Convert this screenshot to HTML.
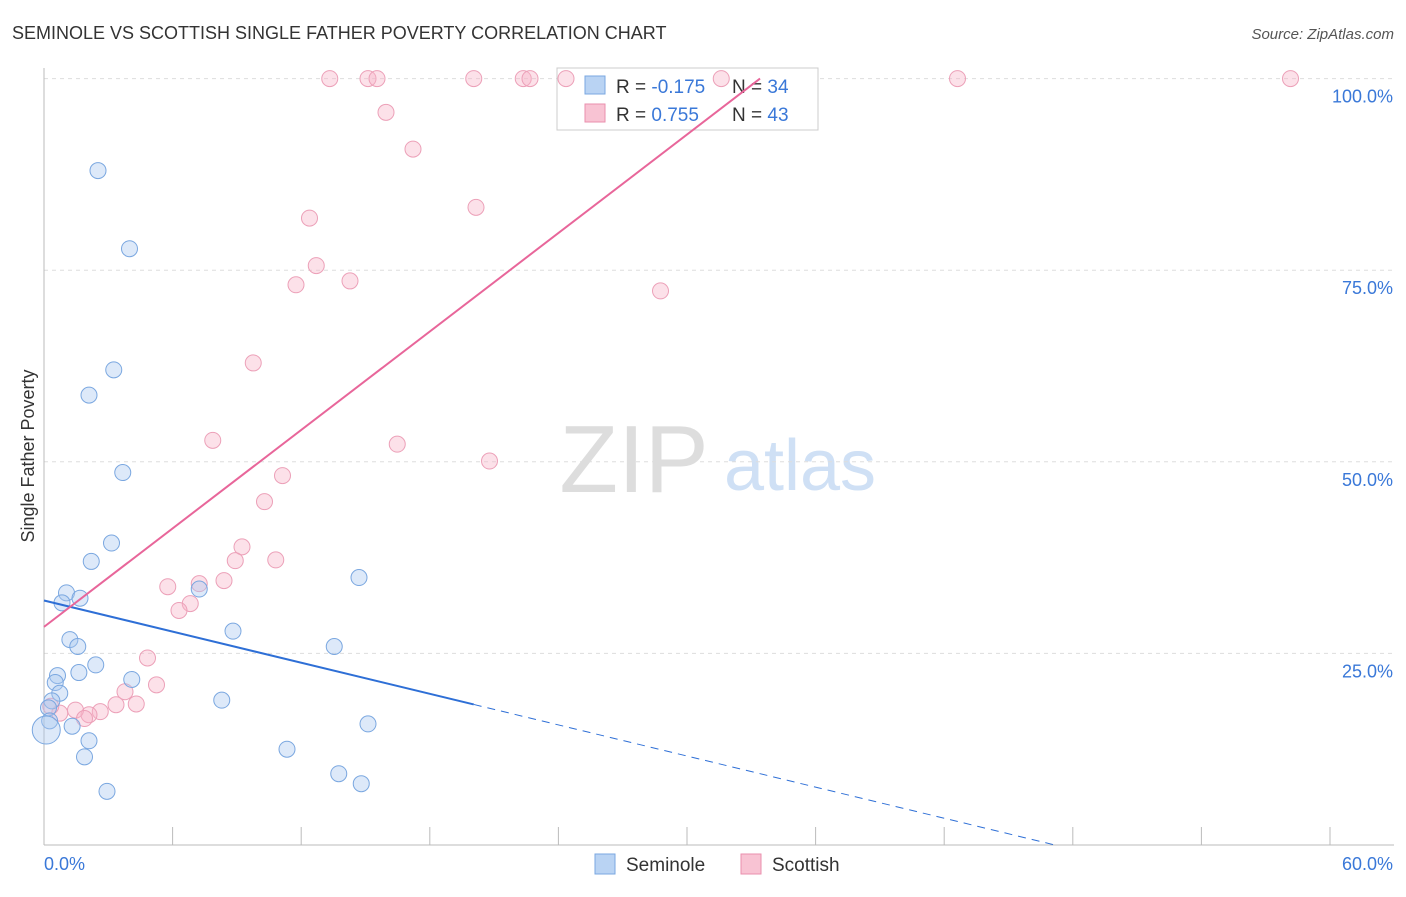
<!DOCTYPE html>
<html><head><meta charset="utf-8"><style>
body{margin:0;background:#fff;font-family:"Liberation Sans",sans-serif}
svg text{font-family:"Liberation Sans",sans-serif}
</style></head><body>
<svg id="c" width="1406" height="892" xmlns="http://www.w3.org/2000/svg">
<text x="12" y="39" font-size="18" fill="#333">SEMINOLE VS SCOTTISH SINGLE FATHER POVERTY CORRELATION CHART</text>
<text x="1394" y="39" font-size="15" fill="#555" text-anchor="end" font-style="italic">Source: ZipAtlas.com</text>
<text x="634" y="492" font-size="96" fill="#ddd" font-family="Liberation Serif" text-anchor="middle">ZIP</text>
<text x="800" y="490" font-size="72" fill="#cfe0f5" text-anchor="middle">atlas</text>
<text transform="translate(34,456) rotate(-90)" font-size="18" fill="#333" text-anchor="middle">Single Father Poverty</text>
<g id="grid"></g>
<g>
<rect x="557" y="68" width="261" height="62" fill="#fff" stroke="#ccc"/>
<rect x="585" y="76" width="20" height="18" fill="#b9d3f3" stroke="#7aa7e0"/>
<rect x="585" y="104" width="20" height="18" fill="#f8c3d3" stroke="#ea8fae"/>
<text x="616" y="93" font-size="19" fill="#333">R = <tspan fill="#3a78d8">-0.175</tspan></text>
<text x="732" y="93" font-size="19" fill="#333">N = <tspan fill="#3a78d8">34</tspan></text>
<text x="616" y="121" font-size="19" fill="#333">R = <tspan fill="#3a78d8"> 0.755</tspan></text>
<text x="732" y="121" font-size="19" fill="#333">N = <tspan fill="#3a78d8">43</tspan></text>
</g>
<g id="pts"></g><g id="lines"></g>
<g>
<rect x="595" y="854" width="20" height="20" fill="#b9d3f3" stroke="#7aa7e0"/>
<text x="626" y="871" font-size="19" fill="#333">Seminole</text>
<rect x="741" y="854" width="20" height="20" fill="#f8c3d3" stroke="#ea8fae"/>
<text x="772" y="871" font-size="19" fill="#333">Scottish</text>
</g>
</svg>
<script>
const yTicks=[25,50,75,100];
const yTickLabels=["25.0%","50.0%","75.0%","100.0%"];
const xLabels=["0.0%","60.0%"];
const seminoleX=[2.4,3.8,3.1,2.0,3.5,3.0,2.1,1.0,0.8,1.6,1.15,1.5,2.3,1.55,0.6,0.5,0.7,0.35,0.2,0.25,1.25,2.0,1.8,2.8,3.9,6.9,8.4,7.9,10.8,12.9,14.0,13.1,14.1,14.4,0.1];
const seminoleY=[88,77.8,62,58.7,48.6,39.4,37,32.9,31.6,32.2,26.8,25.9,23.5,22.5,22.1,21.2,19.8,18.8,17.9,16.2,15.5,13.6,11.5,7.0,21.6,33.4,27.9,18.9,12.5,25.9,34.9,9.3,8.0,15.8,15];
const scottishX=[12.7,14.4,14.8,19.1,21.3,21.6,23.2,30.1,40.6,55.4,15.2,16.4,19.2,11.8,12.1,11.2,13.6,27.4,9.3,7.5,15.7,19.8,10.6,9.8,8.8,8.5,10.3,5.5,6.9,8.0,6.5,6.0,4.6,5.0,3.6,4.1,3.2,2.5,2.0,1.4,0.7,0.3,1.8];
const scottishY=[100,100,100,100,100,100,100,100,100,100,95.6,90.8,83.2,81.8,75.6,73.1,73.6,72.3,62.9,52.8,52.3,50.1,48.2,44.8,38.9,37.1,37.2,33.7,34.1,34.5,31.5,30.6,24.4,20.9,20,18.4,18.3,17.4,17,17.6,17.2,18.1,16.5];
const blueFit=[31.9,-0.71], pinkFit=[28.46,2.248];
const X=v=>44+v/60*1350, Y=v=>845-v*7.664;
const NS="http://www.w3.org/2000/svg";
function mk(t,a,p){const e=document.createElementNS(NS,t);for(const k in a)e.setAttribute(k,a[k]);p.appendChild(e);return e;}
const g=document.getElementById('grid'),pts=document.getElementById('pts'),ln=document.getElementById('lines');
yTicks.forEach((t,i)=>{
 const l=mk('line',{x1:44,x2:1394,y1:Y(t),y2:Y(t),stroke:'#ddd','stroke-dasharray':'4,4'},g);
 
 const tx=mk('text',{x:1393,y:Y(t)+24,'font-size':18,fill:'#3a78d8','text-anchor':'end'},g);tx.textContent=yTickLabels[i];
 
});
const ax=mk('line',{x1:44,x2:1394,y1:845,y2:845,stroke:'#bbb'},g);

const ay=mk('line',{x1:44,x2:44,y1:68,y2:845,stroke:'#bbb'},g);

for(let i=0;i<=10;i++){const x=44+i*128.6;const t=mk('line',{x1:x,x2:x,y1:827,y2:845,stroke:'#bbb'},g);
 }
const xl0=mk('text',{x:44,y:870,'font-size':18,fill:'#3a78d8'},g);xl0.textContent=xLabels[0];

const xl1=mk('text',{x:1393,y:870,'font-size':18,fill:'#3a78d8','text-anchor':'end'},g);xl1.textContent=xLabels[1];

scottishX.forEach((v,i)=>{const c=mk('circle',{cx:X(v),cy:Y(scottishY[i]),r:8,fill:'rgba(248,180,200,0.4)',stroke:'#eca0b8','stroke-width':1},pts);
 });
seminoleX.forEach((v,i)=>{const c=mk('circle',{cx:X(v),cy:Y(seminoleY[i]),r:i==seminoleX.length-1?14:8,fill:'rgba(170,200,240,0.4)',stroke:'#7aa7e0','stroke-width':1},pts);
 });
const bEnd=19.1,bMax=44.9;
const b1=mk('line',{x1:X(0),y1:Y(blueFit[0]),x2:X(bEnd),y2:Y(blueFit[0]+blueFit[1]*bEnd),stroke:'#2e6fd6','stroke-width':2},ln);

const b2=mk('line',{x1:X(bEnd),y1:Y(blueFit[0]+blueFit[1]*bEnd),x2:X(bMax),y2:Y(blueFit[0]+blueFit[1]*bMax),stroke:'#2e6fd6','stroke-width':1,'stroke-dasharray':'8,6'},ln);

const pEnd=(100-pinkFit[0])/pinkFit[1];
const p1=mk('line',{x1:X(0),y1:Y(pinkFit[0]),x2:X(pEnd),y2:Y(100),stroke:'#e8669a','stroke-width':2},ln);

</script>
</body></html>
